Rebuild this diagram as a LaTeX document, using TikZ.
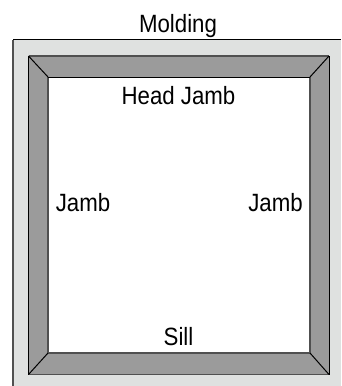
\documentclass[tikz,border=0pt]{standalone}
\usepackage{fontspec}
\setmainfont[FakeStretch=0.89]{Liberation Sans}
\definecolor{wallgray}{RGB}{223,225,224}
\definecolor{trimgray}{RGB}{155,155,155}
\definecolor{edgegray}{RGB}{80,80,80}
\tikzset{
  lbl/.style={font=\fontsize{25}{29}\selectfont,text=black,inner sep=0pt,anchor=base},
  softline/.style={draw=edgegray,line width=1.3pt},
  hardline/.style={draw=black,line width=1pt}
}
\begin{document}
\begin{tikzpicture}[x=1pt,y=-1pt]
\useasboundingbox (0,0) rectangle (341,386);
\fill[white] (0,0) rectangle (341,386);
% molding
\fill[wallgray] (13,39.5) rectangle (341,386);
\draw[softline] (13,386) -- (13,39.5);
\draw[hardline] (13,39.5) -- (341,39.5);
% frame
\coordinate (otl) at (28.5,56);
\coordinate (otr) at (329,56);
\coordinate (obr) at (329,374.5);
\coordinate (obl) at (28.5,374.5);
\coordinate (itl) at (48,77);
\coordinate (itr) at (310,77);
\coordinate (ibr) at (310,353);
\coordinate (ibl) at (48,353);
\fill[trimgray] (otl) -- (otr) -- (obr) -- (obl) -- cycle;
\fill[white] (itl) -- (itr) -- (ibr) -- (ibl) -- cycle;
\draw[softline] (otl) -- (otr);
\draw[softline] (obl) -- (obr);
\draw[softline] (itl) -- (ibl) -- (ibr) -- (itr);
\draw[hardline] (itl) -- (itr);
\draw[hardline] (otl) -- (obl);
\draw[hardline] (otr) -- (obr);
\draw[hardline] (otl) -- (itl);
\draw[hardline] (otr) -- (itr);
\draw[hardline] (obr) -- (ibr);
\draw[hardline] (obl) -- (ibl);
% labels
\node[lbl] (molding) at (178,32) {Molding};
\node[lbl] (head) at (178.5,104) {Head Jamb};
\node[lbl] (jambl) at (83,211) {Jamb};
\node[lbl] (jambr) at (275.5,211) {Jamb};
\node[lbl] (sill) at (178.5,345) {Sill};
\end{tikzpicture}
\end{document}
